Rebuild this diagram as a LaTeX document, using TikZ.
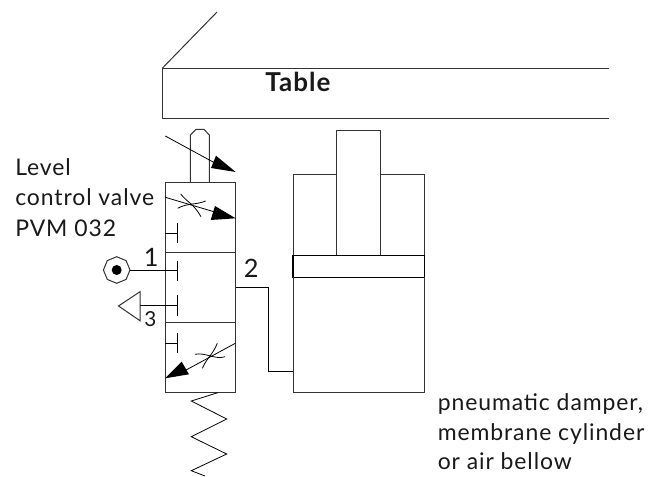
\documentclass[tikz,border=0pt]{standalone}
\usepackage{fontspec}
\setmainfont[LetterSpace=4]{Lato}
\tikzset{
  ln/.style={draw=black!80,line width=0.75pt,line join=miter},
  thin ln/.style={draw=black,line width=0.6pt},
  lbl/.style={inner sep=0pt,anchor=base west,font=\fontsize{17.2}{19}\selectfont,text=black!90},
  head/.style={fill=black,draw=none}
}
\begin{document}
\begin{tikzpicture}[x=0.75pt,y=-0.75pt]
\useasboundingbox (0,0) rectangle (661,476);
\fill[white] (0,0) rectangle (661,476);
% table
\draw[ln] (217,12) -- (162.5,68);
\draw[ln] (609,68) -- (162.5,68) -- (162.5,118) -- (609,118);
\node[lbl,font=\fontsize{19.5}{22}\selectfont\bfseries] (table) at (265,91.7) {Table};
% plunger
\draw[ln] (190.3,182) -- (190.3,135) -- (196,129.3) -- (204,129.3) -- (209.3,135) -- (209.3,182);
% valve
\draw[ln] (165,182) rectangle (235.5,392.7);
\draw[ln] (165,252.7) -- (235.5,252.7);
\draw[ln] (165,322.7) -- (235.5,322.7);
% arrows
\draw[thin ln] (165.3,136) -- (225,168.5);
\fill[head] (235.7,172) -- (216,155.7) -- (211,168) -- cycle;
\draw[thin ln] (165.3,197.3) -- (225,215);
\fill[head] (235.7,218.3) -- (215,206) -- (210.7,220) -- cycle;
\draw[thin ln] (235.3,343.3) -- (175,376);
\fill[head] (165,378.3) -- (181.7,361.7) -- (189,374.3) -- cycle;
% throttles
\draw[thin ln] (180.7,194) .. controls (188,203) and (193,203) .. (201,216.7);
\draw[thin ln] (177.7,208.3) .. controls (187,203) and (196,205) .. (205.7,201);
\draw[thin ln] (217.3,343.3) .. controls (212,356) and (208,356) .. (202.3,368.3);
\draw[thin ln] (195,354.3) .. controls (205,352) and (215,360) .. (225,356.7);
% blocked ports
\draw[thin ln] (165,233) -- (177.3,233);
\draw[thin ln] (177.3,223) -- (177.3,243);
\draw[thin ln] (177.3,260.7) -- (177.3,280.7);
\draw[thin ln] (177.3,295) -- (177.3,316);
\draw[thin ln] (177.3,333.3) -- (177.3,353.3);
\draw[thin ln] (165,343.3) -- (177.3,343.3);
% port 1
\draw[ln] (116.7,256.7) -- (126.1,260.6) -- (130,270) -- (126.1,279.4) -- (116.7,283.3) -- (107.3,279.4) -- (103.4,270) -- (107.3,260.6) -- cycle;
\fill (116.7,270) circle (5);
\draw[thin ln] (130,270) -- (177.3,270);
% port 3
\draw[ln] (140,291.7) -- (118.5,306) -- (140,320.7) -- cycle;
\draw[thin ln] (140,305.5) -- (177.3,305.5);
% port 2 line
\draw[thin ln] (235.5,287.7) -- (268.3,287.7) -- (268.3,371) -- (293,371);
% spring
\draw[thin ln] (217.7,392.7) -- (191.3,401) -- (226.7,419) -- (191.3,436.7) -- (226.7,454) -- (191.3,470.7) -- (205,476);
% cylinder
\draw[ln] (293,255.3) -- (293,174.3) -- (336.7,174.3);
\draw[ln] (380.3,174.3) -- (424.3,174.3) -- (424.3,255.3);
\draw[ln] (336.7,255.3) -- (336.7,130.7) -- (380.3,130.7) -- (380.3,255.3);
\draw[draw=black,line width=0.9pt] (293,255.3) rectangle (424.3,277.3);
\draw[ln] (293,277.3) -- (293,392.7) -- (424.3,392.7) -- (424.3,277.3);
% labels
\node[lbl] (l1) at (15,175) {Level};
\node[lbl] (l2) at (15,205.7) {control valve};
\node[lbl] (l3) at (15,236) {PVM 032};
\node[lbl,font=\fontsize{19}{20}\selectfont] (n1) at (143.5,266.7) {1};
\node[lbl,font=\fontsize{19}{20}\selectfont] (n2) at (243.5,277.7) {2};
\node[lbl,font=\fontsize{15.5}{17}\selectfont] (n3) at (144,326.7) {3};
\node[lbl] (r1) at (437.5,410) {pneumatic damper,};
\node[lbl] (r2) at (437.5,440) {membrane cylinder};
\node[lbl] (r3) at (437.5,469) {or air bellow};
\end{tikzpicture}
\end{document}
